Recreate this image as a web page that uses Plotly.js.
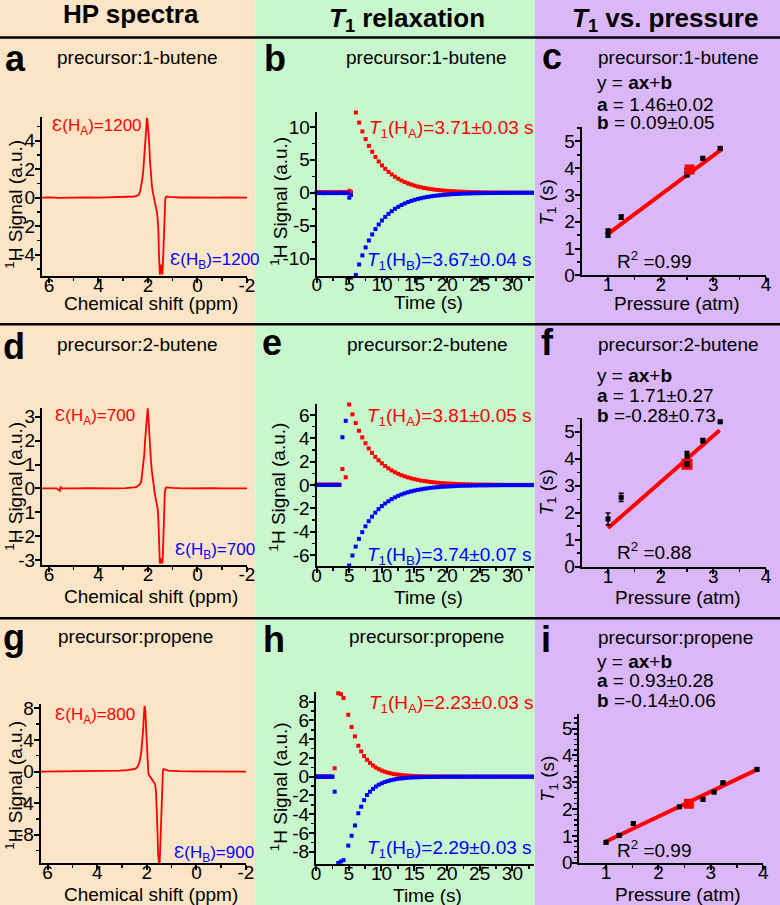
<!DOCTYPE html>
<html><head><meta charset="utf-8">
<script src="https://cdn.plot.ly/plotly-3.0.1.min.js"></script>
<style>html,body{margin:0;padding:0;background:#fff}#chart{width:780px;height:905px}</style>
</head><body><div id="chart"></div>
<script>
// ================= DATA =================
// HP spectra (chemical shift ppm, signal a.u.)
const ppmA=[6.28,6.0,5.6,5.2,4.8,4.4,4.0,3.6,3.2,2.9,2.7,2.55,2.45,2.38,2.32,2.27,2.23,2.19,2.15,2.11,2.07,2.04,2.01,1.98,1.95,1.92,1.88,1.84,1.8,1.76,1.72,1.68,1.64,1.61,1.58,1.56,1.54,1.52,1.5,1.47,1.44,1.42,1.4,1.38,1.36,1.34,1.32,1.3,1.27,1.22,1.15,1.0,0.7,0.4,0.0,-0.4,-0.8,-1.2,-1.6,-2.0];
const sigA=[0.0,0.02,-0.01,0.01,0.0,0.02,0.0,0.01,0.02,0.03,0.05,0.08,0.12,0.2,0.4,0.8,1.3,1.9,2.9,4.1,5.2,5.6,5.2,4.6,3.8,2.6,1.5,0.8,0.35,0.0,-0.3,-0.6,-1.0,-1.5,-2.3,-3.8,-5.2,-5.4,-5.2,-4.7,-5.2,-5.4,-4.8,-3.6,-2.3,-1.2,-0.4,-0.1,0.05,0.08,0.06,0.03,0.01,0.02,0.0,0.01,0.0,0.01,0.0,0.0];
const ppmD=[6.28,6.0,5.7,5.56,5.53,5.5,5.3,4.9,4.5,4.1,3.7,3.3,2.9,2.7,2.55,2.45,2.38,2.32,2.27,2.23,2.19,2.15,2.11,2.07,2.04,2.01,1.98,1.95,1.92,1.88,1.84,1.8,1.76,1.72,1.68,1.64,1.61,1.58,1.56,1.54,1.52,1.5,1.47,1.44,1.42,1.4,1.38,1.36,1.34,1.32,1.3,1.27,1.22,1.15,1.0,0.6,0.2,-0.2,-0.6,-1.0,-1.4,-1.8,-2.0];
const sigD=[0.0,0.01,0.0,-0.1,0.08,0.0,0.01,0.0,0.01,0.0,0.01,0.0,0.01,0.02,0.04,0.07,0.12,0.18,0.3,0.6,0.95,1.4,2.1,2.8,3.25,3.35,2.9,2.3,1.75,1.18,0.7,0.3,-0.05,-0.25,-0.45,-0.65,-0.85,-1.3,-1.9,-2.8,-3.15,-3.1,-2.95,-3.05,-3.15,-2.8,-2.0,-1.2,-0.6,-0.2,-0.05,0.03,0.04,0.03,0.02,0.0,0.01,0.0,0.01,0.0,0.01,0.0,0.0];
const ppmG=[6.28,5.8,5.2,4.6,4.0,3.5,3.1,2.8,2.6,2.5,2.42,2.36,2.31,2.26,2.22,2.18,2.15,2.12,2.09,2.06,2.03,2.0,1.97,1.94,1.9,1.85,1.8,1.75,1.7,1.66,1.63,1.6,1.57,1.545,1.52,1.5,1.48,1.455,1.43,1.405,1.38,1.35,1.32,1.28,1.22,1.14,1.0,0.7,0.3,-0.2,-0.8,-1.4,-2.0];
const sigG=[0.0,0.01,0.02,0.03,0.05,0.08,0.12,0.18,0.25,0.32,0.45,0.7,1.1,1.7,2.6,3.8,5.2,7.0,8.3,7.6,5.2,2.8,0.8,-0.2,-0.5,-0.8,-1.0,-1.2,-1.4,-1.7,-2.5,-4.5,-7.5,-10.5,-11.8,-11.8,-11.5,-9.0,-5.5,-2.5,-0.6,0.15,0.32,0.3,0.2,0.12,0.08,0.04,0.02,0.01,0.0,0.01,0.0];

// T1 relaxation (time s, signal a.u.)
const timeB=[0,0.25,0.5,0.75,1,1.25,1.5,1.75,2,2.25,2.5,2.75,3,3.25,3.5,3.75,4,4.25,4.5,4.75,5.0,5.25,
 6,6.5,7,7.5,8,8.5,9,9.5,10,10.5,11,11.5,12,12.5,13,13.5,14,14.5,15,15.5,16,16.5,17,17.5,18,18.5,19,19.5,20,20.5,21,21.5,22,22.5,23,23.5,24,24.5,25,25.5,26,26.5,27,27.5,28,28.5,29,29.5,30,30.5,31,31.5,32,32.5,33];
const redB=[0.1,0.12,0.08,0.1,0.11,0.09,0.1,0.12,0.1,0.08,0.1,0.11,0.1,0.09,0.12,0.1,0.1,0.11,0.09,0.1,0.3,0.12,
 12.2,10.66,9.32,8.15,7.12,6.22,5.44,4.75,4.15,3.63,3.17,2.77,2.42,2.12,1.85,1.62,1.41,1.24,1.08,0.94,0.83,0.72,0.63,0.55,0.48,0.42,0.37,0.32,0.28,0.24,0.21,0.19,0.16,0.14,0.12,0.11,0.09,0.08,0.07,0.06,0.05,0.05,0.04,0.04,0.03,0.03,0.02,0.02,0.02,0.02,0.01,0.01,0.01,0.01,0.01];
const blueB=[-0.05,-0.03,-0.06,-0.04,-0.05,-0.07,-0.04,-0.05,-0.03,-0.06,-0.05,-0.04,-0.06,-0.05,-0.03,-0.05,-0.04,-0.06,-0.05,-0.04,-0.75,-0.35,
 -12.5,-10.91,-9.53,-8.32,-7.26,-6.34,-5.53,-4.83,-4.22,-3.68,-3.21,-2.81,-2.45,-2.14,-1.87,-1.63,-1.42,-1.24,-1.08,-0.95,-0.83,-0.72,-0.63,-0.55,-0.48,-0.42,-0.37,-0.32,-0.28,-0.24,-0.21,-0.19,-0.16,-0.14,-0.12,-0.11,-0.09,-0.08,-0.07,-0.06,-0.05,-0.05,-0.04,-0.04,-0.03,-0.03,-0.02,-0.02,-0.02,-0.02,-0.01,-0.01,-0.01,-0.01,-0.01];

const timeE=[0,0.25,0.5,0.75,1,1.25,1.5,1.75,2,2.25,2.5,2.75,3,3.25,3.5,3.97,4.48,
 5,5.5,6,6.5,7,7.5,8,8.5,9,9.5,10,10.5,11,11.5,12,12.5,13,13.5,14,14.5,15,15.5,16,16.5,17,17.5,18,18.5,19,19.5,20,20.5,21,21.5,22,22.5,23,23.5,24,24.5,25,25.5,26,26.5,27,27.5,28,28.5,29,29.5,30,30.5,31,31.5,32,32.5,33];
const redE=[0.03,0.03,0.03,0.03,0.03,0.03,0.03,0.03,0.03,0.03,0.03,0.03,0.03,0.03,0.03,1.37,0.66,
 6.9,6.05,5.31,4.65,4.08,3.58,3.14,2.75,2.41,2.12,1.86,1.63,1.43,1.25,1.10,0.96,0.84,0.74,0.65,0.57,0.50,0.44,0.38,0.34,0.30,0.26,0.23,0.20,0.17,0.15,0.13,0.12,0.10,0.09,0.08,0.07,0.06,0.05,0.05,0.04,0.04,0.03,0.03,0.03,0.02,0.02,0.02,0.02,0.01,0.01,0.01,0.01,0.01,0.01,0.01,0.01,0.01];
const blueE=[0,0,0,0,0,0,0,0,0,0,0,0,0,0,0,4.09,5.5,
 -6.9,-6.04,-5.28,-4.62,-4.04,-3.54,-3.1,-2.71,-2.37,-2.07,-1.81,-1.59,-1.39,-1.21,-1.06,-0.93,-0.81,-0.71,-0.62,-0.55,-0.48,-0.42,-0.37,-0.32,-0.28,-0.24,-0.21,-0.19,-0.16,-0.14,-0.13,-0.11,-0.10,-0.08,-0.07,-0.06,-0.06,-0.05,-0.04,-0.04,-0.03,-0.03,-0.03,-0.02,-0.02,-0.02,-0.02,-0.01,-0.01,-0.01,-0.01,-0.01,-0.01,-0.01,-0.01,-0.01,-0.01];

const timeH=[0,0.25,0.5,0.75,1,1.25,1.5,1.75,2,2.25,2.5,2.85,3.4,3.8,4.2,4.93,5.44,5.95,6.46,
 6.9,7.35,7.8,8.25,8.7,9.15,9.6,10.05,10.5,10.95,11.4,11.85,12.3,12.75,13.2,13.65,14.1,14.55,15.0,15.45,15.9,16.35,16.8,17.25,17.7,18.15,18.6,19.05,19.5,19.95,20.4,20.85,21.3,21.75,22.2,22.65,23.1,23.55,24.0,24.45,24.9,25.35,25.8,26.25,26.7,27.15,27.6,28.05,28.5,28.95,29.4,29.85,30.3,30.75,31.2,31.65,32.1,32.55,33.0];
const redH=[0,0,0,0,0,0,0,0,0,0,0,0.9,8.9,8.8,8.4,6.6,5.3,4.3,3.3,
 2.7,2.2,1.8,1.47,1.2,0.98,0.8,0.65,0.53,0.44,0.36,0.29,0.24,0.2,0.16,0.13,0.11,0.09,0.07,0.06,0.05,0.04,0.03,0.03,0.02,0.02,0.02,0.01,0.01,0.01,0.01,0.01,0.01,0.01,0.01,0,0,0,0,0,0,0,0,0,0,0,0,0,0,0,0,0,0,0,0,0,0,0,0];
const blueH=[0,0,0,0,0,0,0,0,0,0,0,-1.6,-9.2,-9.05,-8.9,-7.35,-6.3,-5.2,-3.9,
 -3.2,-2.5,-1.95,-1.6,-1.3,-1.05,-0.85,-0.7,-0.57,-0.47,-0.38,-0.31,-0.25,-0.2,-0.17,-0.14,-0.11,-0.09,-0.07,-0.06,-0.05,-0.04,-0.03,-0.03,-0.02,-0.02,-0.02,-0.01,-0.01,-0.01,-0.01,-0.01,-0.01,-0.01,-0.01,0,0,0,0,0,0,0,0,0,0,0,0,0,0,0,0,0,0,0,0,0,0,0,0];

// T1 vs pressure (atm, s, error s)
const presC=[1,1,1.25,2.5,2.5,2.8,3.13], t1C=[1.5,1.65,2.17,3.75,3.92,4.37,4.74], errC=[0.08,0.08,0.08,0.07,0.07,0.05,0.05];
const hlPresC=[2.55], hlT1C=[3.95];
const fitPresC=[1.0,3.15], fitT1C=[1.55,4.69];
const presF=[1,1.25,2.5,2.5,2.8,3.13], t1F=[1.77,2.57,4.15,3.8,4.67,5.37], errF=[0.22,0.15,0.12,0.08,0.08,0.05];
const hlPresF=[2.5], hlT1F=[3.8];
const fitPresF=[1.0,3.12], fitT1F=[1.43,5.06];
const presI=[1,1.25,1.52,2.4,2.55,2.85,3.06,3.23,3.88], t1I=[0.76,1.02,1.46,2.08,2.17,2.36,2.63,2.98,3.48], errI=[0.05,0.05,0.05,0.05,0.05,0.05,0.05,0.05,0.05];
const hlPresI=[2.58], hlT1I=[2.2];
const fitPresI=[0.98,3.88], fitT1I=[0.77,3.47];

// tick labels
const ticksPPM=[6,4,2,0,-2], minorPPM=[5,3,1,-1];
const ticksTime=[0,5,10,15,20,25,30], minorTime=[2.5,7.5,12.5,17.5,22.5,27.5,32.5];
const ticksPres=[1,2,3,4], minorPres=[1.5,2.5,3.5];
const ticksYA=[-4,-2,0,2,4], minorYA=[-5,-3,-1,1,3,5];
const ticksYD=[-3,-2,-1,0,1,2,3], minorYD=[];
const ticksYG=[-8,-4,0,4,8], minorYG=[-10,-6,-2,2,6];
const ticksYB=[-10,-5,0,5,10], minorYB=[-7.5,-2.5,2.5,7.5];
const ticksYE=[-6,-4,-2,0,2,4,6], minorYE=[-5,-3,-1,1,3,5];
const ticksYH=[-8,-6,-4,-2,0,2,4,6,8], minorYH=[-7,-5,-3,-1,1,3,5,7];
const ticksT1=[0,1,2,3,4,5], minorT1=[0.5,1.5,2.5,3.5,4.5,5.5];
const minorT1i=[0.2,0.4,0.6,0.8,1.2,1.4,1.6,1.8,2.2,2.4,2.6,2.8,3.2,3.4,3.6,3.8,4.2,4.4,4.6,4.8,5.2,5.4];

// ================= LAYOUT =================
const W=780,H=905;
const FONT='Liberation Sans, Arial, Helvetica, sans-serif';
const RED='#ff0000', BLUE='#0000ff';
const PEACH='#fce5c6', GREEN='#c8f6cd', LAV='#dab7f8';

const panels=[
 {box:[42,247,117,276],    xr:[6.28,-2], yr:[-5.5,5.66],   xt:ticksPPM, xm:minorPPM, yt:ticksYA, ym:minorYA},
 {box:[316.7,534,111.8,275.6],xr:[0,33.3],yr:[-12.6,12.3], xt:ticksTime,xm:minorTime,yt:ticksYB, ym:minorYB},
 {box:[581.7,766,126.7,275.3],xr:[0.5,4.0],yr:[0,5.55],    xt:ticksPres,xm:minorPres,yt:ticksT1, ym:minorT1},
 {box:[42,247,407.7,565],  xr:[6.28,-2], yr:[-3.21,3.38],  xt:ticksPPM, xm:minorPPM, yt:ticksYD, ym:minorYD},
 {box:[316.5,534,403.9,566.1],xr:[0,33.3],yr:[-6.95,6.95], xt:ticksTime,xm:minorTime,yt:ticksYE, ym:minorYE},
 {box:[581.7,766,418.3,566.7],xr:[0.5,4.0],yr:[0,5.5],     xt:ticksPres,xm:minorPres,yt:ticksT1, ym:minorT1},
 {box:[40.7,246,704.3,863.3],xr:[6.28,-2],yr:[-11.6,8.5],  xt:ticksPPM, xm:minorPPM, yt:ticksYG, ym:minorYG},
 {box:[316,534,692.3,863.9], xr:[0,33.3], yr:[-9.3,9.0],   xt:ticksTime,xm:minorTime,yt:ticksYH, ym:minorYH},
 {box:[579.3,763.3,714.3,862.7],xr:[0.49,4.0],yr:[0,5.53], xt:ticksPres,xm:minorPres,yt:ticksT1, ym:minorT1i}
];

const layout={width:W,height:H,margin:{l:0,r:0,t:0,b:0},paper_bgcolor:'#ffffff',plot_bgcolor:'rgba(0,0,0,0)',
 showlegend:false,font:{family:FONT,size:19,color:'#000'},shapes:[],annotations:[]};

function axisBase(ticks, minor, range, standoff){
 return {range:range,showline:true,linecolor:'#000',linewidth:2,ticks:'outside',ticklen:5,tickwidth:2,tickcolor:'#000',
  showgrid:false,zeroline:false,fixedrange:true,automargin:false,tickmode:'array',tickvals:ticks,ticktext:ticks.map(String),
  ticklabelstandoff:standoff,
  tickfont:{family:FONT,size:19,color:'#000'},
  minor:{tickmode:'array',tickvals:minor,ticks:'outside',ticklen:3,tickwidth:1.5,tickcolor:'#000',showgrid:false}};
}
panels.forEach((p,i)=>{
 const n=i+1, s=n===1?'':String(n);
 p.xa='x'+s; p.ya='y'+s;
 layout['xaxis'+s]=Object.assign(axisBase(p.xt,p.xm,p.xr,-14),{domain:[p.box[0]/W,p.box[1]/W],anchor:p.ya});
 layout['yaxis'+s]=Object.assign(axisBase(p.yt,p.ym,p.yr,-4),{domain:[1-p.box[3]/H,1-p.box[2]/H],anchor:p.xa});
});

// column backgrounds & separators
[[0,255,PEACH],[255,535,GREEN],[535,780,LAV]].forEach(c=>layout.shapes.push({type:'rect',xref:'paper',yref:'paper',x0:c[0]/W,x1:c[1]/W,y0:0,y1:1,fillcolor:c[2],line:{width:0},layer:'below'}));
[37.5,324.3,618.3].forEach(y=>layout.shapes.push({type:'line',xref:'paper',yref:'paper',x0:0,x1:1,y0:1-y/H,y1:1-y/H,line:{color:'#000',width:2.5},layer:'above'}));

function ann(text,x,y,o){
 return Object.assign({text:text,x:x/W,y:1-y/H,xref:'paper',yref:'paper',showarrow:false,xanchor:'center',yanchor:'middle',
  font:{family:FONT,size:19,color:'#000'}},o||{});
}
const A=layout.annotations;
const hdr={font:{family:FONT,size:26,color:'#000'}};
A.push(ann('<b>HP spectra</b>',130.8,14.5,hdr));
A.push(ann('<b><i>T</i><sub>1</sub> relaxation</b>',406.7,19,hdr));
A.push(ann('<b><i>T</i><sub>1</sub> vs. pressure</b>',665,19,hdr));
const let36={font:{family:FONT,size:36,color:'#000'}};
[['a',15,58.4],['b',275,58.4],['c',551.7,56.4],['d',14,346.4],['e',272,342.4],['f',547.5,342.4],['g',14,637.4],['h',274,639.4],['i',546,639.4]]
 .forEach(l=>A.push(ann('<b>'+l[0]+'</b>',l[1],l[2],let36)));
[['precursor:1-butene',137.5,57.4],['precursor:1-butene',426.7,57.4],['precursor:1-butene',678,57.4],
 ['precursor:2-butene',137.5,344],['precursor:2-butene',427,344],['precursor:2-butene',678,344],
 ['precursor:propene',135,636.4],['precursor:propene',426.7,636.4],['precursor:propene',675.5,637.7]]
 .forEach(s=>A.push(ann(s[0],s[1],s[2])));
// axis titles
[[151,303],[151,596],[151,894]].forEach(t=>A.push(ann('Chemical shift (ppm)',t[0],t[1])));
[[428,302.5],[428,597],[427.5,895]].forEach(t=>A.push(ann('Time (s)',t[0],t[1])));
[[677,303.5],[678.3,597],[678.3,894]].forEach(t=>A.push(ann('Pressure (atm)',t[0],t[1])));
[[13.7,204],[13.7,486],[13.7,785],[278.7,201],[277,487.5],[278.7,786.5]].forEach(t=>A.push(ann('<sup>1</sup>H Signal (a.u.)',t[0],t[1],{textangle:-90})));
[[547.5,203],[547.5,493],[549,779]].forEach(t=>A.push(ann('<i>T</i><sub>1</sub> (s)',t[0],t[1],{textangle:-90})));
// epsilon labels
const L={xanchor:'left'};
function col(c,sz){return {xanchor:'left',font:{family:FONT,size:sz||19,color:c}};}
A.push(ann('Ɛ(H<sub>A</sub>)=1200',50,127.3,col(RED,17)));
A.push(ann('Ɛ(H<sub>B</sub>)=1200',168.3,260.6,col(BLUE,17)));
A.push(ann('Ɛ(H<sub>A</sub>)=700',53.3,417.3,col(RED,17)));
A.push(ann('Ɛ(H<sub>B</sub>)=700',173.3,550.6,col(BLUE,17)));
A.push(ann('Ɛ(H<sub>A</sub>)=800',53.3,715.6,col(RED,17)));
A.push(ann('Ɛ(H<sub>B</sub>)=900',171.7,853.6,col(BLUE,17)));
// T1 labels
A.push(ann('<i>T</i><sub>1</sub>(H<sub>A</sub>)=3.71±0.03 s',366.7,128.6,col(RED)));
A.push(ann('<i>T</i><sub>1</sub>(H<sub>B</sub>)=3.67±0.04 s',365,260.6,col(BLUE)));
A.push(ann('<i>T</i><sub>1</sub>(H<sub>A</sub>)=3.81±0.05 s',365,417.3,col(RED)));
A.push(ann('<i>T</i><sub>1</sub>(H<sub>B</sub>)=3.74±0.07 s',365,555.6,col(BLUE)));
A.push(ann('<i>T</i><sub>1</sub>(H<sub>A</sub>)=2.23±0.03 s',366.7,703.9,col(RED)));
A.push(ann('<i>T</i><sub>1</sub>(H<sub>B</sub>)=2.29±0.03 s',365,848.9,col(BLUE)));
// fit text
[[['y = <b>ax</b>+<b>b</b>',82.7],['<b>a</b> = 1.46±0.02',104],['<b>b</b> = 0.09±0.05',122.7],['R<sup>2</sup> =0.99',260.3,615]],
 [['y = <b>ax</b>+<b>b</b>',376],['<b>a</b> = 1.71±0.27',395.7],['<b>b</b> =-0.28±0.73',415],['R<sup>2</sup> =0.88',551.3,615]],
 [['y = <b>ax</b>+<b>b</b>',661.7],['<b>a</b> = 0.93±0.28',680],['<b>b</b> =-0.14±0.06',700],['R<sup>2</sup> =0.99',848.7,615]]]
 .forEach(g=>g.forEach(t=>A.push(ann(t[0],t[2]||595,t[1],L))));

// ================= TRACES =================
const traces=[];
function spec(p,x,y){traces.push({type:'scatter',mode:'lines',x:x,y:y,xaxis:p.xa,yaxis:p.ya,line:{color:RED,width:1.8},hoverinfo:'skip'});}
function relax(p,t,r,b){
 traces.push({type:'scatter',mode:'markers',x:t,y:r,xaxis:p.xa,yaxis:p.ya,cliponaxis:false,marker:{symbol:'square',size:4,color:RED}});
 traces.push({type:'scatter',mode:'markers',x:t,y:b,xaxis:p.xa,yaxis:p.ya,cliponaxis:false,marker:{symbol:'square',size:4,color:BLUE}});
}
function pres(p,x,y,e,hx,hy,fx,fy,open){
 traces.push({type:'scatter',mode:'lines',x:fx,y:fy,xaxis:p.xa,yaxis:p.ya,line:{color:RED,width:4}});
 if(open) traces.push({type:'scatter',mode:'markers',x:hx,y:hy,xaxis:p.xa,yaxis:p.ya,marker:{symbol:'square',size:11,color:RED}});
 traces.push({type:'scatter',mode:'markers',x:x,y:y,xaxis:p.xa,yaxis:p.ya,cliponaxis:false,
  error_y:{type:'data',array:e,color:'#000',thickness:1.5,width:2.5},marker:{symbol:'square',size:5,color:'#000'}});
 if(!open) traces.push({type:'scatter',mode:'markers',x:hx,y:hy,xaxis:p.xa,yaxis:p.ya,marker:{symbol:'square',size:10,color:RED}});
}
spec(panels[0],ppmA,sigA); relax(panels[1],timeB,redB,blueB); pres(panels[2],presC,t1C,errC,hlPresC,hlT1C,fitPresC,fitT1C,false);
spec(panels[3],ppmD,sigD); relax(panels[4],timeE,redE,blueE); pres(panels[5],presF,t1F,errF,hlPresF,hlT1F,fitPresF,fitT1F,true);
spec(panels[6],ppmG,sigG); relax(panels[7],timeH,redH,blueH); pres(panels[8],presI,t1I,errI,hlPresI,hlT1I,fitPresI,fitT1I,false);

Plotly.newPlot('chart',traces,layout,{staticPlot:true,displayModeBar:false});
</script></body></html>
